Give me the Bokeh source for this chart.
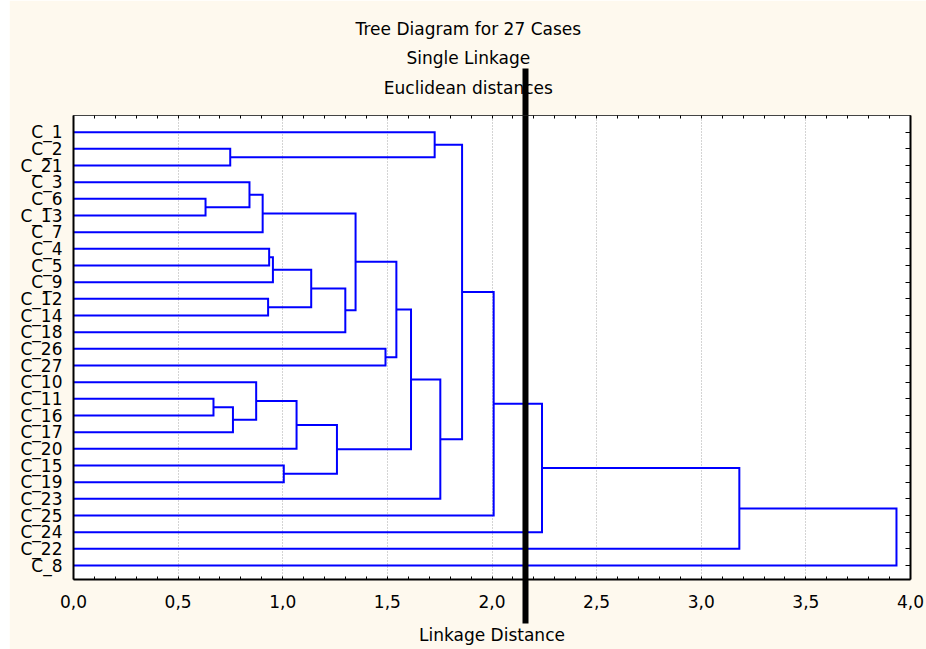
from bokeh.plotting import figure
from bokeh.models import Range1d, FixedTicker, LinearAxis, Label, Span
from bokeh.embed import file_html
from bokeh.resources import INLINE

# ---- data -------------------------------------------------------------
title_lines = ["Tree Diagram for 27 Cases", "Single Linkage", "Euclidean distances"]
x_label = "Linkage Distance"

# leaves, from top to bottom
leaves = ["C_1", "C_2", "C_21", "C_3", "C_6", "C_13", "C_7", "C_4", "C_5", "C_9",
          "C_12", "C_14", "C_18", "C_26", "C_27", "C_10", "C_11", "C_16", "C_17",
          "C_20", "C_15", "C_19", "C_23", "C_25", "C_24", "C_22", "C_8"]

# linkage table: clusters merge_a[i] and merge_b[i] join at merge_h[i]
# (ids < 27 are leaves, id 27 + i is the cluster made by merge i)
merge_a = [4, 16, 1, 28, 3, 15, 31, 10, 7, 35, 20, 32, 36, 38, 39, 33, 13, 42, 44, 0,
           45, 46, 48, 49, 50, 51]
merge_b = [5, 17, 2, 18, 27, 30, 6, 11, 8, 9, 21, 19, 34, 37, 12, 41, 14, 43, 40, 29,
           22, 47, 23, 24, 25, 26]
merge_h = [0.631, 0.669, 0.749, 0.762, 0.841, 0.873, 0.904, 0.930, 0.935, 0.953,
           1.005, 1.066, 1.136, 1.259, 1.299, 1.348, 1.491, 1.543, 1.613, 1.726,
           1.753, 1.857, 2.008, 2.239, 3.182, 3.933]

cut_distance = 2.16

x_tick_values = [0.0, 0.5, 1.0, 1.5, 2.0, 2.5, 3.0, 3.5, 4.0]
x_tick_labels = ["0,0", "0,5", "1,0", "1,5", "2,0", "2,5", "3,0", "3,5", "4,0"]
x_minor_ticks = [i / 10 for i in range(41)]

# ---- geometry from the linkage ---------------------------------------
n = len(leaves)
leaf_y = [n - i for i in range(n)]
node_x = {i: 0.0 for i in range(n)}
node_y = {i: leaf_y[i] for i in range(n)}
xs, ys = [], []
for k, (a, b, h) in enumerate(zip(merge_a, merge_b, merge_h)):
    xs.append([node_x[a], h, h, node_x[b]])
    ys.append([node_y[a], node_y[a], node_y[b], node_y[b]])
    node_x[n + k] = h
    node_y[n + k] = (node_y[a] + node_y[b]) / 2.0

FONT = "DejaVu Sans"
FS = "17px"
CREAM = "#FEF9EE"

p = figure(width=917, height=649, margin=(0, 0, 0, 9),
           x_range=Range1d(0, 4), y_range=Range1d(0.16, 28.0),
           output_backend="svg", toolbar_location=None,
           min_border_left=64, min_border_right=16, min_border_top=115,
           min_border_bottom=70, background_fill_color="white",
           border_fill_color=CREAM, outline_line_color=None)

# bottom frame axis: inward minor ticks + outward extension of the cut line
xa = p.xaxis[0]
xa.ticker = FixedTicker(ticks=[cut_distance], minor_ticks=x_minor_ticks)
xa.major_tick_in = 0
xa.major_tick_out = 44
xa.major_tick_line_width = 6
xa.major_tick_line_color = "black"
xa.major_tick_line_dash = "44 400"
xa.minor_tick_in = 3
xa.minor_tick_out = 0
xa.minor_tick_line_color = "black"
xa.axis_line_width = 2
xa.axis_line_color = "black"
xa.major_label_text_color = None
xa.major_label_text_font_size = "1px"
xa.major_label_standoff = 0

# labelled distance axis
xb = LinearAxis(ticker=FixedTicker(ticks=x_tick_values),
                major_label_overrides=dict(zip(x_tick_values, x_tick_labels)),
                axis_line_color=None, major_tick_line_color=None,
                minor_tick_line_color=None, major_tick_in=0, major_tick_out=0,
                minor_tick_in=0, minor_tick_out=0,
                major_label_text_font=FONT, major_label_text_font_size=FS,
                major_label_text_color="black", major_label_standoff=-29,
                axis_label=x_label, axis_label_text_font=FONT,
                axis_label_text_font_size=FS, axis_label_text_font_style="normal",
                axis_label_text_color="black", axis_label_standoff=14)
p.add_layout(xb, "below")

# left axis with leaf names
ya = p.yaxis[0]
ya.ticker = FixedTicker(ticks=leaf_y)
ya.major_label_overrides = dict(zip(leaf_y, leaves))
ya.major_label_text_font = FONT
ya.major_label_text_font_size = FS
ya.major_label_text_color = "black"
ya.major_label_standoff = 11
ya.major_tick_in = 0
ya.major_tick_out = 0
ya.minor_tick_line_color = None
ya.axis_line_width = 2
ya.axis_line_color = "black"

# top frame axis: inward minor ticks + outward extension of the cut line
top = LinearAxis(ticker=FixedTicker(ticks=[cut_distance], minor_ticks=x_minor_ticks),
                 major_tick_in=0, major_tick_out=47, major_tick_line_width=6,
                 major_tick_line_color="black",
                 minor_tick_in=3, minor_tick_out=0, minor_tick_line_color="black",
                 major_label_text_color=None, major_label_text_font_size="1px",
                 major_label_standoff=0, axis_line_width=1, axis_line_color="#444444")
p.add_layout(top, "above")

# right frame axis: inward ticks at the leaves
right = LinearAxis(ticker=FixedTicker(ticks=leaf_y), major_tick_in=5, major_tick_out=0,
                   minor_tick_line_color=None, major_label_text_color=None,
                   major_label_text_font_size="1px", major_label_standoff=0,
                   axis_line_width=2, axis_line_color="black",
                   major_tick_line_color="black")
p.add_layout(right, "right")

p.xgrid.ticker = FixedTicker(ticks=x_tick_values)
p.xgrid.grid_line_color = "#A8A8A8"
p.xgrid.grid_line_dash = "1 2"
p.xgrid.grid_line_width = 1
p.ygrid.visible = False

p.multi_line(xs, ys, line_color="#0000FF", line_width=2, line_join="miter")

# cut line inside the plot area
p.add_layout(Span(location=cut_distance, dimension="height", line_color="black",
                  line_width=6))

# three title lines (placed in the top panel so they are not clipped)
for txt, yy in zip(title_lines, [33.22, 31.45, 29.68]):
    p.add_layout(Label(x=1.887, y=yy, text=txt, text_align="center",
                       text_baseline="alphabetic", text_font=FONT,
                       text_font_size=FS, text_color="black"), "above")

open("out.html", "w").write(file_html(p, INLINE))
